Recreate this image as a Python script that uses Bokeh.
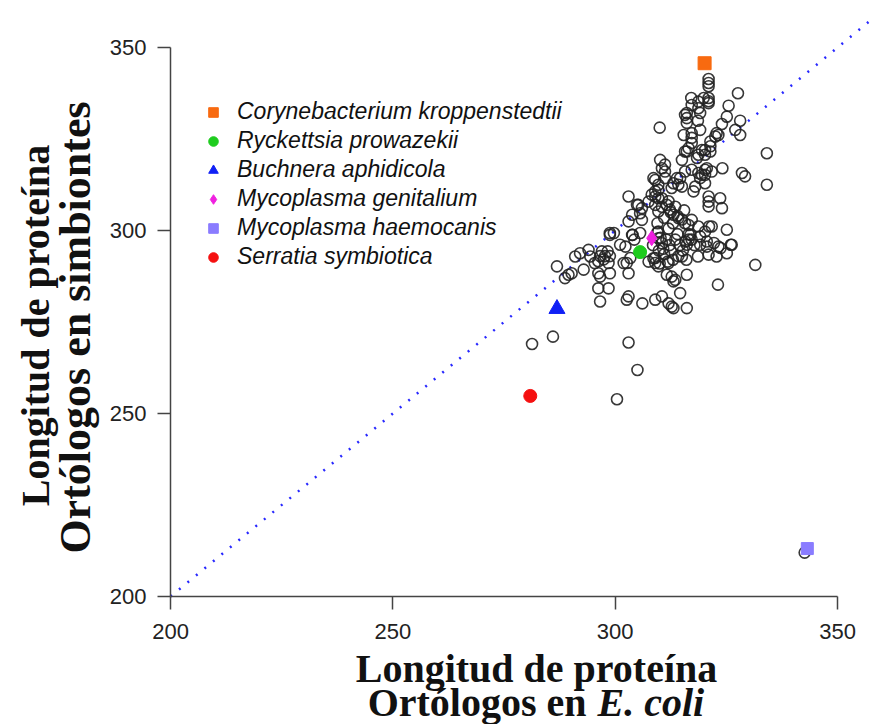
from bokeh.plotting import figure
from bokeh.models import Range1d, Legend, LegendItem, Label, FixedTicker
from bokeh.embed import file_html
from bokeh.resources import INLINE

# Mean protein length of orthologs: E. coli (x) vs. symbionts (y)
ortholog_x = [
    321.0, 321.0, 321.0, 321.0, 321.0, 321.0, 319.9, 317.1,
    327.6, 325.5, 318.7, 319.1, 316.1, 316.1, 316.1, 325.1, 318.6, 324.0, 328.1, 310.0,
    322.8, 327.0, 328.1, 315.4, 317.2, 317.2, 317.2, 319.1, 321.4, 334.1, 316.1, 319.5,
    318.4, 310.1, 315.0, 320.2, 334.1, 328.5, 329.2, 324.1,
    323.6, 324.0, 321.0, 321.0, 321.0, 325.1,
    317.6, 318.0, 311.2, 311.2, 311.2, 313.9, 315.0, 319.5, 320.2, 317.2,
    309.0, 309.7, 303.0, 305.2, 305.6, 306.0, 303.8, 303.0, 298.8,
    307.5, 308.2, 309.7, 313.1, 312.7, 303.8, 305.6,
    310.5, 308.6, 309.0, 310.5, 311.6, 312.3, 313.1, 304.9, 306.0,
    315.7, 316.5, 315.7, 317.2, 318.7, 318.7, 320.2, 321.4,
    322.5, 321.4, 323.2, 320.6, 321.7, 320.2, 318.7, 319.1, 320.2,
    315.7, 314.6, 314.2,
    314.2, 315.7, 317.2, 318.7, 320.2, 321.7,
    309.5, 310.2, 310.5, 310.8, 311.0, 309.8, 311.5, 312.2, 312.5, 313.5, 314.0, 314.5,
    315.2, 315.8, 316.5, 317.2, 317.8, 308.5, 309.0, 310.0, 311.8, 313.0, 314.2, 316.0,
    312.0, 313.0, 314.0, 312.5, 315.0, 316.5, 311.0, 309.5, 310.5, 313.5, 315.5, 312.0,
    331.5, 323.1, 326.2, 325.1, 322.8, 323.2, 320.6, 321.0, 318.6, 319.1, 315.0, 316.1,
    312.7, 313.1, 311.6, 314.6, 316.1, 312.7, 312.0, 310.5, 309.0, 306.1,
    312.0, 309.7, 309.0, 316.1, 316.5, 316.9,
    322.2, 320.6, 319.1, 326.0, 323.7, 321.1, 313.5, 313.1,
    309.0, 309.7, 309.7, 309.7, 309.0, 309.7, 302.3,
    286.9, 288.7, 289.5, 290.2, 291.0, 292.1, 294.0, 294.4, 292.9, 296.2, 296.6, 298.8,
    296.2, 298.5, 296.6, 303.0, 302.6, 303.0, 301.9, 303.4, 302.6,
    296.6, 297.4, 298.5, 296.2, 297.7, 298.8, 297.0, 298.3,
    298.8, 301.1, 303.9, 304.3, 307.5, 308.6, 295.4, 299.7,
    281.3, 286.0, 303.0, 305.0, 300.4, 342.6,
]
ortholog_y = [
    341.4, 340.3, 339.4, 336.2, 335.3, 334.8, 336.2, 336.2,
    337.5, 334.1, 333.4, 332.1, 332.1, 330.7, 329.4, 331.1, 330.0, 329.1, 330.0, 328.1,
    326.6, 327.5, 326.1, 326.1, 326.6, 325.3, 323.9, 327.5, 324.3, 321.1, 321.6, 322.0,
    319.8, 319.3, 319.3, 320.7, 312.5, 315.7, 314.8, 317.0,
    308.8, 306.1, 309.3, 307.9, 306.6, 300.2,
    310.7, 312.0, 318.0, 316.1, 314.3, 314.3, 312.0, 315.2, 316.6, 316.6,
    313.8, 312.5, 309.3, 307.0, 304.7, 302.9, 304.3, 302.5, 299.3,
    307.9, 309.8, 308.8, 312.9, 311.6, 298.8, 299.3,
    317.0, 314.3, 310.7, 308.8, 307.0, 305.7, 304.3, 307.0, 306.1,
    321.6, 322.5, 331.6, 334.3, 335.2, 320.7, 322.0, 323.0,
    325.7, 321.6, 326.1, 317.0, 316.1, 315.2, 315.7, 314.3, 312.9,
    316.1, 314.3, 312.5,
    303.4, 302.0, 302.9, 301.1, 299.7, 301.1,
    299.5, 298.0, 296.5, 295.0, 293.5, 294.5, 297.5, 296.0, 294.5, 297.5, 299.0, 296.0,
    294.5, 297.0, 299.0, 297.5, 296.0, 296.0, 292.5, 291.0, 291.5, 292.0, 293.0, 292.0,
    300.5, 302.0, 304.0, 305.0, 303.0, 301.5, 303.5, 302.0, 306.5, 306.5, 305.5, 308.0,
    290.6, 285.2, 296.1, 293.8, 292.9, 295.6, 295.6, 293.4, 292.9, 296.1, 292.9, 287.9,
    287.4, 286.1, 287.9, 282.9, 278.8, 279.2, 280.1, 282.0, 281.1, 280.1,
    291.1, 290.2, 291.1, 296.1, 297.5, 298.8,
    296.6, 297.0, 298.4, 296.1, 295.2, 301.1, 286.5, 278.8,
    307.0, 305.2, 299.7, 297.9, 309.3, 311.1, 295.6,
    290.2, 287.0, 287.9, 288.3, 292.9, 293.8, 294.7, 292.9, 289.3, 288.3, 287.4, 288.3,
    284.2, 284.2, 280.6, 282.0, 281.1, 288.3, 291.1, 292.5, 291.1,
    293.0, 292.1, 291.1, 291.6, 293.0, 293.0, 294.3, 294.3,
    298.8, 296.1, 298.8, 297.5, 291.5, 292.4, 291.1, 299.3,
    269.0, 271.0, 269.4, 261.9, 253.9, 212.0,
]

# Highlighted genomes
species = [
    "Corynebacterium kroppenstedtii",
    "Ryckettsia prowazekii",
    "Buchnera aphidicola",
    "Mycoplasma genitalium",
    "Mycoplasma haemocanis",
    "Serratia symbiotica",
]
species_x = [320.1, 305.6, 286.9, 308.2, 343.2, 280.9]
species_y = [345.7, 294.1, 278.6, 297.9, 213.1, 254.8]
species_marker = ["square", "circle", "triangle", "diamond", "square", "circle"]
species_color = ["#F86A10", "#1ECC1E", "#1020F5", "#F020E0", "#8A7CFF", "#F51010"]
species_size = [13, 13, 16, 15, 12, 13]

axis_ticks = [200, 250, 300, 350]
axis_origin = 200
axis_end = 350
identity_x = [200, 357]   # reference line y = x
identity_y = [200, 357]

# The frame fills the whole canvas; the axes are pinned at the data origin
# so the axis titles can sit inside the frame.
p = figure(
    width=879, height=724,
    x_range=Range1d(161.77, 359.43), y_range=Range1d(165.03, 362.84),
    output_backend="svg", toolbar_location=None,
    min_border=0,
)
p.outline_line_color = None
p.xgrid.visible = False
p.ygrid.visible = False
p.background_fill_color = "white"
p.border_fill_color = "white"

p.xaxis[0].fixed_location = axis_origin
p.yaxis[0].fixed_location = axis_origin
for ax in (p.xaxis[0], p.yaxis[0]):
    ax.ticker = FixedTicker(ticks=axis_ticks)
    ax.bounds = (axis_origin, axis_end)
    ax.axis_line_color = "#444444"
    ax.axis_line_width = 1.5
    ax.major_tick_line_color = "#444444"
    ax.major_tick_line_width = 1.5
    ax.major_tick_out = 13
    ax.major_tick_in = 0
    ax.minor_tick_line_color = None
    ax.major_label_text_font = "Liberation Sans"
    ax.major_label_text_font_size = "22px"
    ax.major_label_text_color = "#222222"
p.xaxis[0].major_label_standoff = 14
p.yaxis[0].major_label_standoff = 11

p.line(identity_x, identity_y, line_color="#2828FF", line_width=2.5, line_dash="2 9")

p.scatter(ortholog_x, ortholog_y, marker="circle", size=11,
          fill_color=None, line_color="#222222", line_width=1.6, line_alpha=0.9)

items = []
for i, name in enumerate(species):
    r = p.scatter([species_x[i]], [species_y[i]], marker=species_marker[i],
                  size=species_size[i], fill_color=species_color[i],
                  line_color=species_color[i])
    items.append(LegendItem(label=name, renderers=[r]))

legend = Legend(
    items=items, location=(201, 454),
    label_text_font="Liberation Sans", label_text_font_style="italic",
    label_text_font_size="23px", label_text_color="#111111",
    glyph_width=24, glyph_height=24, label_height=24, spacing=2,
    label_standoff=12, padding=0, margin=0,
    border_line_color=None, background_fill_alpha=0,
)
p.add_layout(legend)

serif = "Liberation Serif"
common = dict(x_units="screen", y_units="screen", text_font=serif,
              text_color="#111111", text_baseline="alphabetic")
# x-axis title
p.add_layout(Label(x=536, y=56, text="Longitud de proteína", text_font_size="40px",
                   text_font_style="bold", text_align="center", **common))
p.add_layout(Label(x=586, y=22, text="Ortólogos en", text_font_size="40px",
                   text_font_style="bold", text_align="right", **common))
p.add_layout(Label(x=597, y=22, text="E. coli", text_font_size="40px",
                   text_font_style="bold italic", text_align="left", **common))
# y-axis title
p.add_layout(Label(x=35, y=399, text="Longitud de proteína", angle=1.5708,
                   text_font_size="40px", text_font_style="bold",
                   text_align="center", **common))
p.add_layout(Label(x=75, y=397, text="Ortólogos en simbiontes", angle=1.5708,
                   text_font_size="44px", text_font_style="bold",
                   text_align="center", **common))

open("out.html", "w").write(file_html(p, INLINE))
